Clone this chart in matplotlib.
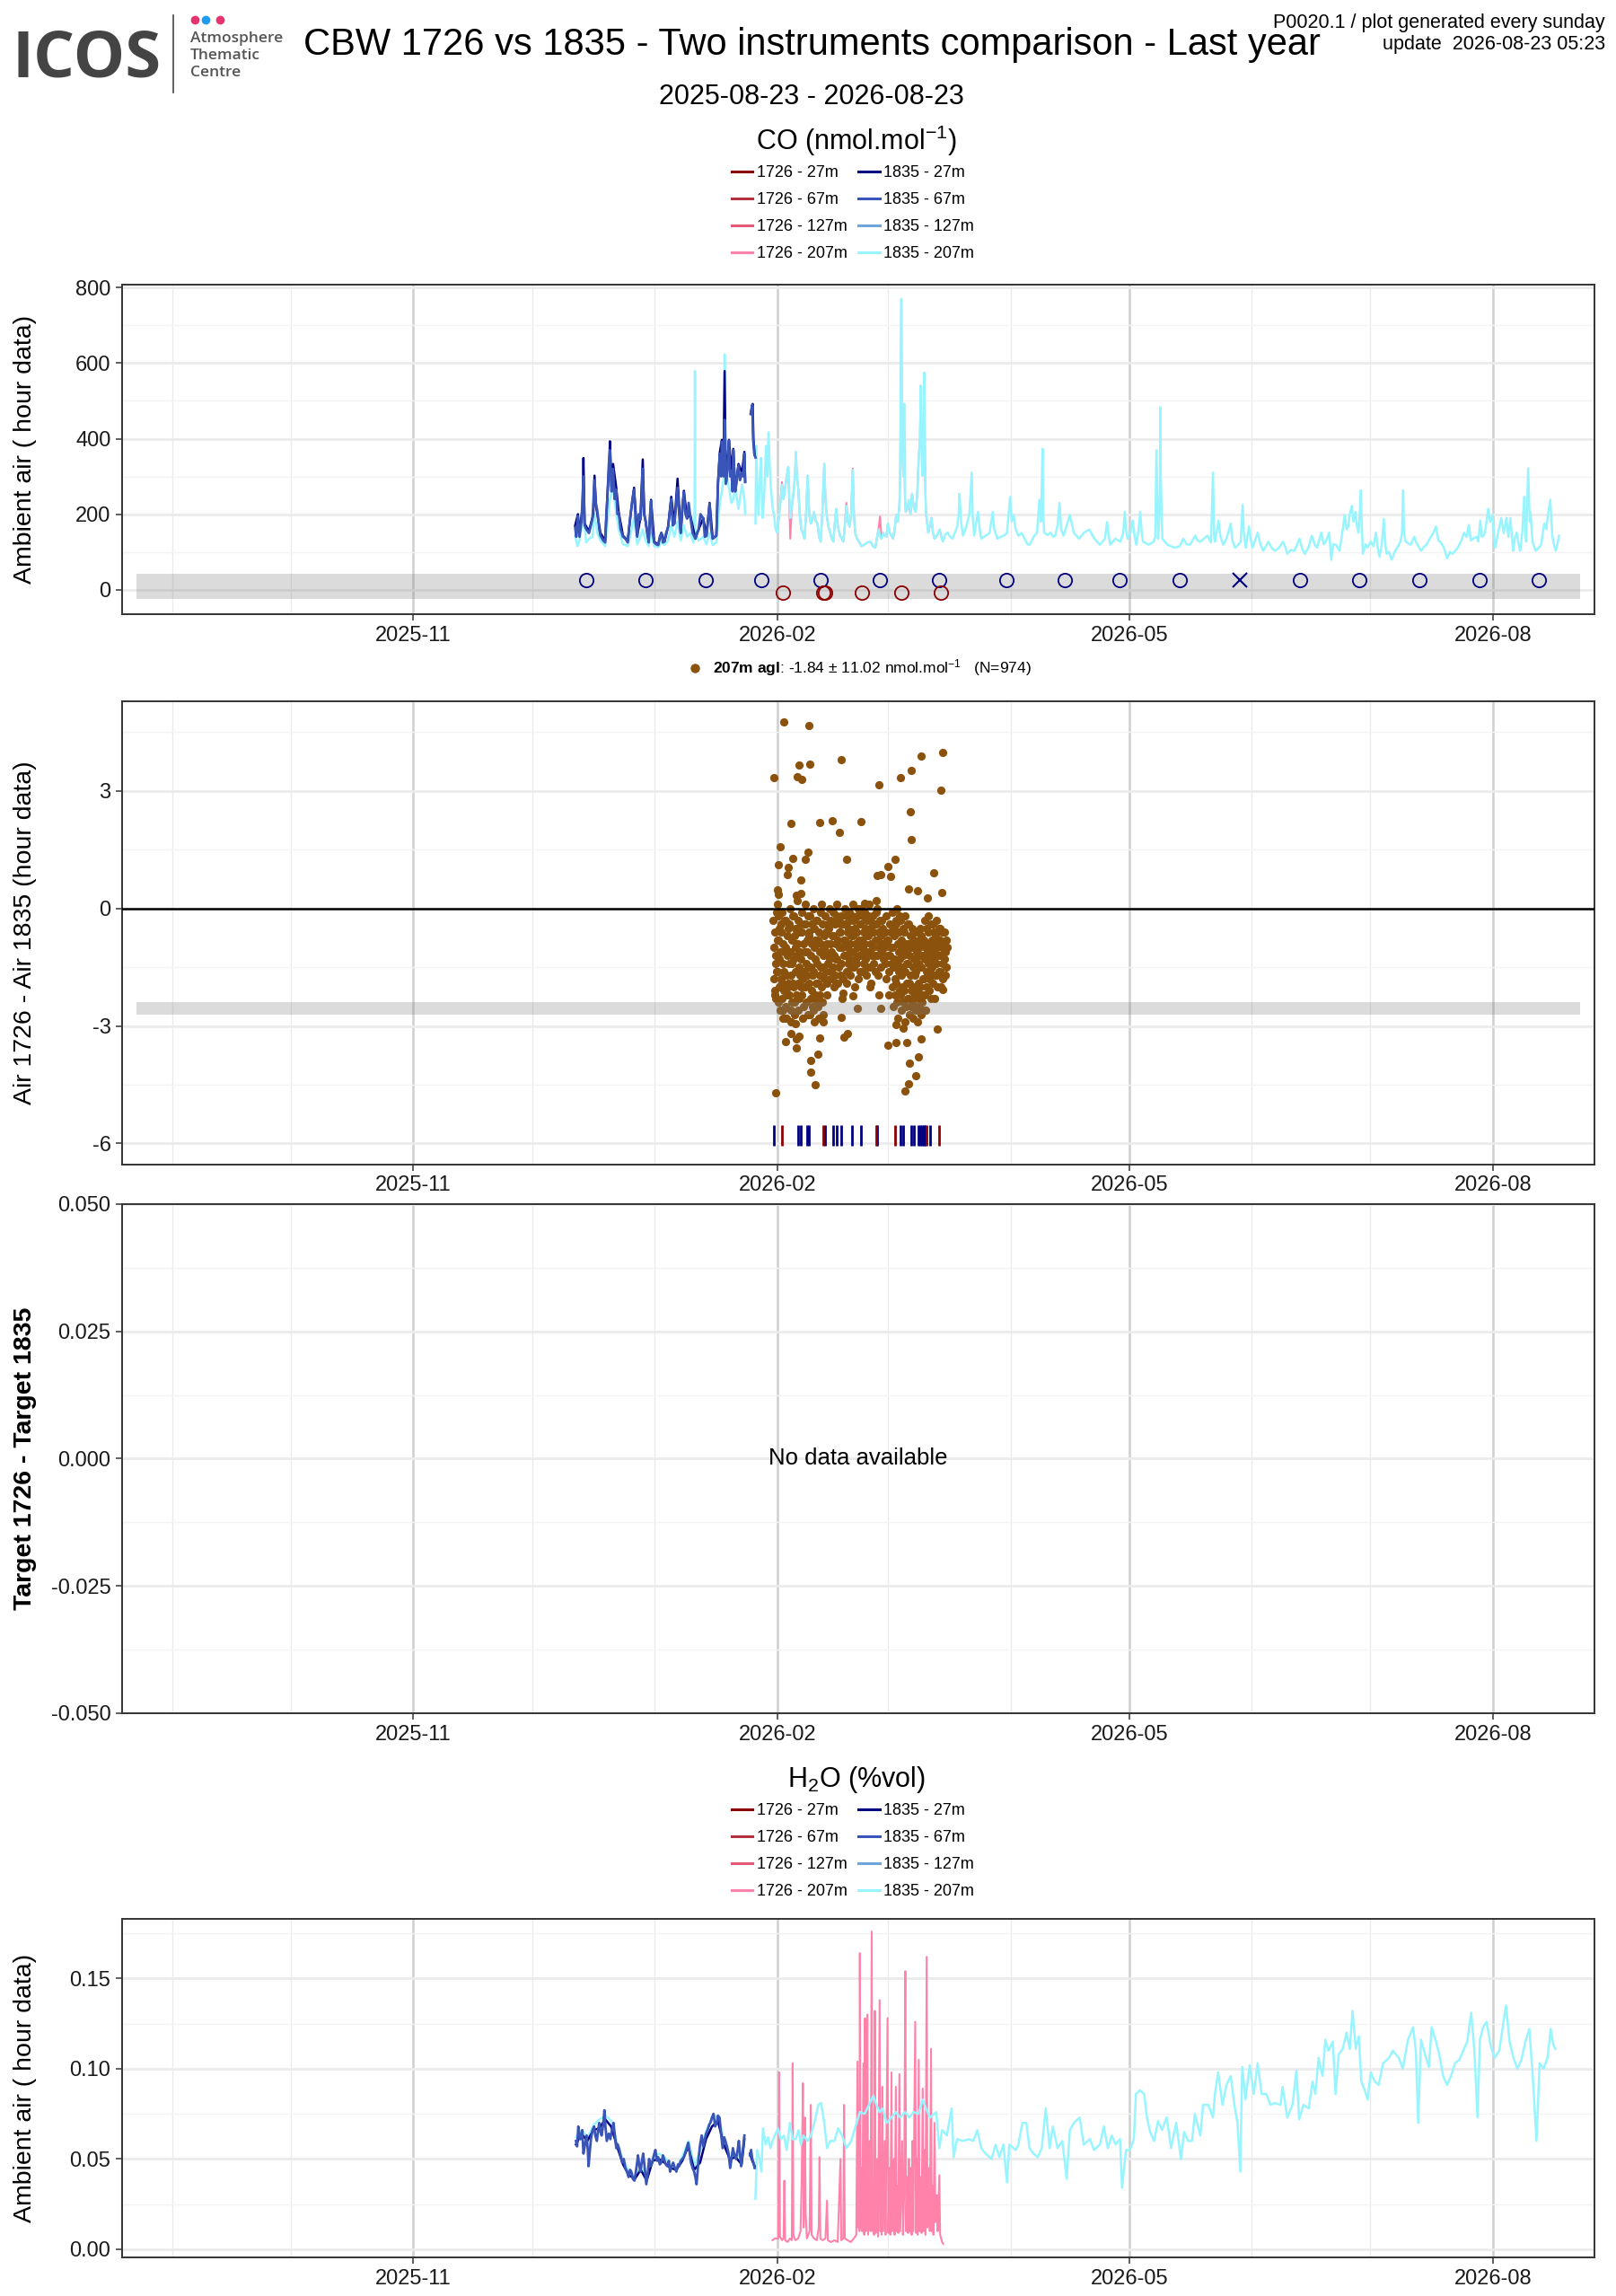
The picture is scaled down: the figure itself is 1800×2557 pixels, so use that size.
import numpy as np
import matplotlib
matplotlib.use("Agg")
import matplotlib.pyplot as plt
import matplotlib.dates as mdates
from matplotlib.lines import Line2D
from matplotlib.ticker import FixedLocator, FormatStrFormatter

plt.rcParams['font.family'] = ['Liberation Sans', 'DejaVu Sans']
plt.rcParams['axes.unicode_minus'] = False
plt.rcParams['mathtext.fontset'] = 'custom'
plt.rcParams['mathtext.rm'] = 'Liberation Sans'
plt.rcParams['mathtext.it'] = 'Liberation Sans:italic'
plt.rcParams['mathtext.bf'] = 'Liberation Sans:bold'

nan = np.nan

# all times are days relative to 2026-02-01 00:00
T0 = np.datetime64('2026-02-01T00:00')
period_start = np.datetime64('2025-08-23T00:00')
period_end = np.datetime64('2026-08-23T00:00')

series_names = ['1726 - 27m', '1726 - 67m', '1726 - 127m', '1726 - 207m',
                '1835 - 27m', '1835 - 67m', '1835 - 127m', '1835 - 207m']
series_colors = ['#8B0000', '#B5303F', '#E25A75', '#FF82AB',
                 '#000080', '#3A55B8', '#6CA6DC', '#98F5FF']

# ---------------- CO ambient air (nmol/mol) ----------------
co_1835_67_days = [-51.1, -50.8, -50.4, -50.0, -49.5, -49.0, -48.7, -48.3, -47.6, -47.0, -46.7, -46.2,
                   -45.9, -45.5, -45.0, -44.7, -44.0, -43.5, -43.2, -42.9, -42.6, -42.3, -41.9, -41.5,
                   -41.1, -40.7, -40.4, -40.1, -39.6, -39.0, -38.4, -37.8, -37.4, -37.0, -36.6, -36.2,
                   -35.8, -35.4, -35.0, -34.6, -34.3, -34.0, -33.7, -33.3, -32.9, -32.5, -32.2, -31.9,
                   -31.5, -31.1, -30.6, -30.1, -29.7, -29.3, -28.9, -28.5, -28.1, -27.6, -27.2, -26.8,
                   -26.4, -26.0, -25.6, -25.2, -24.8, -24.4, -24.0, -23.6, -23.2, -22.8, -22.4, -22.0,
                   -21.4, -20.7, -20.3, -19.9, -19.4, -18.7, -18.3, -17.9, -17.5, -17.1, -16.7, -16.3,
                   -15.8, -15.4, -15.2, -15.0, -14.7, -14.5, -14.2, -14.0, -13.6, -13.3, -13.0, -12.9,
                   -12.5, -12.2, -11.9, -11.6, -11.3, -11.1, -10.8, -10.6, -10.2, -9.8, -9.4, -8.9,
                   -8.6, -8.3, -8.1, -7.0, -6.7, -6.3, -6.1, -5.8, -5.5]
co_1835_67_vals = [165, 140, 195, 140, 180, 300, 170, 160, 150, 175, 190, 290,
                   230, 210, 160, 143, 130, 125, 200, 250, 330, 370, 260, 320,
                   240, 265, 200, 205, 160, 140, 135, 125, 170, 205, 240, 265,
                   180, 140, 200, 185, 240, 320, 200, 185, 150, 125, 190, 235,
                   150, 125, 120, 118, 140, 150, 125, 128, 150, 165, 200, 240,
                   170, 175, 220, 270, 200, 150, 220, 258, 200, 188, 230, 195,
                   150, 135, 150, 158, 200, 188, 140, 142, 180, 228, 160, 135,
                   140, 143, 200, 276, 330, 360, 300, 392, 300, 450, 280, 285,
                   330, 395, 300, 315, 260, 370, 300, 260, 290, 330, 290, 310,
                   300, 360, 285, nan, 465, 490, 400, 360, 350]

co_1835_27_days = [-51.1, -50.4, -50.0, -49.2, -49.0, -48.7, -47.6, -46.5, -46.2, -45.8, -44.7, -43.5,
                   -42.9, -42.5, -42.3, -41.9, -41.5, -40.7, -40.1, -39.0, -37.8, -37.0, -36.2, -35.4,
                   -34.6, -34.0, -33.6, -32.5, -31.9, -31.1, -30.1, -29.3, -28.5, -27.6, -26.8, -26.0,
                   -25.2, -24.4, -23.6, -22.8, -22.0, -20.7, -19.9, -18.7, -17.9, -17.1, -16.3, -15.4,
                   -15.0, -14.5, -14.0, -13.6, -13.3, -13.0, -12.9, -12.2, -11.6, -11.1, -10.6, -9.8,
                   -8.9, -8.3, -8.1, -7.0, -6.7, -6.2, -6.0, -5.7]
co_1835_27_vals = [170, 200, 150, 220, 349, 175, 155, 200, 302, 220, 150, 130,
                   260, 330, 393, 270, 333, 270, 206, 143, 130, 206, 270, 143,
                   190, 345, 200, 130, 238, 127, 119, 151, 127, 167, 246, 175,
                   294, 151, 262, 190, 198, 135, 159, 190, 143, 230, 135, 143,
                   278, 365, 397, 320, 579, 300, 286, 397, 317, 373, 262, 333,
                   310, 365, 286, nan, 468, 492, 397, 357]

co_1835_207_days = [-51.1, -50.5, -50.0, -49.0, -48.3, -47.6, -46.7, -46.2, -45.5, -44.7, -43.5, -42.9,
                    -42.3, -41.5, -40.7, -40.1, -39.0, -37.8, -37.0, -36.2, -35.4, -34.6, -34.0, -33.3,
                    -32.5, -31.9, -31.1, -30.1, -29.3, -28.5, -27.6, -26.8, -26.0, -25.2, -24.4, -23.6,
                    -22.8, -22.0, -21.2, -20.9, -20.8, -20.7, -19.9, -18.7, -17.9, -17.1, -16.3, -15.4,
                    -15.0, -14.5, -14.0, -13.5, -13.3, -13.1, -12.9, -12.2, -11.6, -11.1, -10.6, -9.8,
                    -8.9, -8.3, -8.1, -7.0,
                    -5.5, -5.3, -5.0, -4.7, -4.4, -4.1, -3.7, -3.3, -2.8, -2.5, -2.2, -1.9,
                    -1.6, -1.2, -0.8, -0.4, 0.0, 0.4, 0.8, 1.2, 1.6, 2.0, 2.4, 2.8,
                    3.3, 3.7, 4.1, 4.5, 4.7, 5.0, 5.3, 5.7, 6.1, 6.5, 6.9, 7.3,
                    7.7, 8.1, 8.5, 8.9, 9.3, 9.8, 10.2, 10.6, 11.0, 11.4, 11.9, 12.2,
                    12.6, 13.0, 13.4, 13.8, 14.2, 14.6, 14.9, 15.3, 15.9, 16.3, 16.7, 17.1,
                    17.5, 17.9, 18.3, 18.7, 19.1, 19.4, 19.7, 20.2, 20.7, 21.3, 22.0, 22.8,
                    23.6, 24.2, 24.8, 25.2, 25.6, 26.0, 26.4, 26.8, 27.2, 27.6, 28.0, 28.5,
                    29.3, 29.7, 30.1, 30.5, 30.9, 31.1, 31.4, 31.5, 31.7, 31.9, 32.1, 32.3,
                    32.5, 32.9, 33.3, 33.7, 34.1, 34.5, 35.0, 35.4, 35.8, 36.1, 36.3, 36.6,
                    36.7, 37.0, 37.2, 37.4, 37.6, 38.2, 38.6, 39.0, 39.4, 39.8, 40.5, 41.1,
                    41.5, 41.9, 42.4, 43.1, 43.7, 44.3, 44.9, 45.5, 45.9, 46.1, 46.5, 47.0,
                    47.6, 48.0, 48.6, 49.2, 49.4, 49.8, 50.2, 50.8, 51.2, 51.6, 52.2, 52.8,
                    53.7, 54.5, 54.9, 55.7, 56.5, 57.3, 58.1, 58.9, 59.3, 59.8, 60.3, 61.0,
                    61.8, 62.6, 63.3, 63.8, 64.4, 65.0, 65.7, 66.3, 66.7, 67.1, 67.3, 67.5,
                    68.3, 69.1, 69.8, 70.3, 70.9, 71.4, 71.8, 72.4, 73.2, 74.0,
                    75.0, 76.3, 77.6, 78.9, 80.2, 81.6, 82.9, 83.4, 83.9, 84.2, 85.5, 86.8,
                    87.5, 87.9, 88.2, 88.6, 89.3, 89.9, 90.4, 90.8, 91.4, 91.8, 92.2, 92.5,
                    93.9, 95.2, 95.6, 95.9, 96.1, 96.3, 96.7, 96.9, 97.0, 97.4, 98.7, 99.6,
                    100.5, 101.8, 102.7, 103.5, 104.4, 105.7, 106.3, 107.0, 107.9, 108.8, 109.7, 110.2,
                    110.5, 110.7, 111.6, 112.1, 112.8, 113.6, 114.7, 115.1, 115.8, 116.7, 117.2, 117.7,
                    118.0, 118.5, 119.3, 119.8, 120.2, 121.5, 122.2, 122.9, 124.2, 125.1, 125.9, 126.8,
                    127.9, 128.6, 129.0, 129.9, 130.8, 132.1, 132.7, 133.4, 134.3, 135.2, 135.9, 136.5,
                    137.6, 138.2, 138.7, 139.6, 140.1, 140.6, 141.3, 142.2, 142.9, 143.5, 144.0, 144.4,
                    144.8, 145.3, 145.7, 146.2, 146.6, 147.0, 147.3, 147.6, 147.8, 148.1, 148.8, 149.2,
                    150.1, 150.8, 151.4, 151.9, 152.3, 152.9, 153.4, 153.8, 154.1, 154.7, 155.4, 156.3,
                    157.0, 157.6, 158.0, 158.3, 158.5, 158.9, 160.2, 161.1, 161.5, 162.8, 163.7, 164.2,
                    165.0, 165.9, 166.6, 167.2, 167.7, 168.6, 169.4, 170.1, 170.8, 172.1, 173.0, 173.7,
                    174.3, 174.9, 175.4, 176.0, 176.9, 177.3, 177.8, 178.2, 178.7, 179.1, 179.8, 180.3,
                    180.9, 181.2, 181.6, 182.3, 183.1, 183.7, 184.4, 184.9, 185.4, 186.1, 186.6, 187.0,
                    187.5, 187.9, 188.4, 188.9, 189.2, 189.4, 189.9, 190.3, 190.5, 191.0, 191.8, 192.5,
                    193.2, 193.6, 194.0, 194.5, 194.9, 195.5, 195.8, 196.0, 196.4, 196.9, 197.3, 197.7]
co_1835_207_vals = [140, 115, 130, 200, 125, 135, 140, 200, 150, 130, 115, 180,
                    240, 270, 200, 160, 120, 115, 150, 190, 120, 140, 160, 130,
                    115, 150, 115, 112, 125, 118, 130, 170, 140, 180, 130, 170,
                    140, 150, 125, 200, 579, 150, 130, 140, 120, 150, 118, 125,
                    170, 230, 260, 300, 623, 330, 317, 270, 230, 238, 270, 214,
                    278, 240, 200, nan,
                    175, 381, 250, 198, 300, 349, 190, 250, 381, 300, 417, 330,
                    270, 220, 198, 160, 151, 190, 230, 278, 240, 270, 300, 325,
                    190, 220, 254, 300, 365, 300, 270, 200, 159, 150, 135, 200,
                    302, 200, 175, 185, 206, 180, 175, 140, 127, 200, 333, 240,
                    190, 165, 151, 135, 127, 180, 214, 170, 143, 135, 127, 170,
                    222, 180, 167, 200, 317, 200, 151, 135, 127, 115, 119, 125,
                    127, 115, 111, 135, 159, 140, 135, 150, 143, 140, 175, 150,
                    135, 160, 198, 180, 222, 300, 770, 400, 349, 300, 492, 250,
                    206, 220, 238, 200, 254, 220, 206, 250, 349, 400, 540, 350,
                    302, 400, 575, 300, 206, 151, 170, 190, 150, 135, 145, 159,
                    140, 127, 145, 151, 140, 135, 150, 167, 200, 254, 180, 143,
                    160, 175, 200, 310, 200, 143, 170, 206, 160, 135, 140, 143,
                    150, 206, 160, 135, 140, 143, 150, 246, 180, 198, 160, 143,
                    150, 135, 120, 119, 130, 143, 150, 238, 180, 373, 200, 151,
                    145, 151, 140, 143, 170, 230, 160, 143, 170, 198,
                    151, 135, 151, 159, 135, 119, 135, 179, 140, 119, 135, 127,
                    150, 206, 160, 135, 150, 183, 140, 119, 160, 206, 150, 127,
                    119, 127, 140, 369, 250, 135, 200, 483, 300, 135, 119, 115,
                    111, 115, 135, 120, 119, 143, 130, 127, 135, 143, 125, 310,
                    140, 127, 183, 140, 119, 135, 175, 130, 111, 120, 127, 225,
                    150, 111, 167, 130, 111, 151, 120, 103, 127, 110, 103, 110,
                    127, 110, 95, 105, 103, 135, 110, 95, 110, 143, 120, 111,
                    151, 120, 127, 151, 79, 120, 119, 103, 150, 198, 160, 167,
                    200, 222, 180, 206, 170, 151, 200, 263, 180, 95, 120, 111,
                    127, 115, 151, 110, 87, 120, 187, 120, 95, 100, 79, 103,
                    115, 127, 150, 263, 150, 127, 119, 140, 127, 103, 115, 119,
                    135, 150, 167, 130, 127, 111, 83, 100, 95, 111, 130, 151,
                    140, 171, 130, 135, 140, 127, 183, 140, 143, 160, 214, 180,
                    198, 150, 111, 150, 190, 150, 190, 140, 190, 103, 140, 151,
                    120, 103, 150, 246, 160, 127, 321, 180, 206, 127, 103, 110,
                    119, 150, 175, 160, 198, 238, 180, 143, 120, 103, 120, 143]

# 1726 at 207m: reads almost the same as 1835 and is drawn underneath it
co_1726_207_days = [0.0, 0.4, 0.8, 1.2, 1.6, 2.0, 2.4, 2.8, 3.3, 3.7, 4.1, 4.5,
                    4.7, 5.0, 5.3, 5.7, 6.1, 6.5, 6.9, 7.3, 7.7, 8.1, 8.5, 8.9,
                    9.3, 9.8, 10.2, 10.6, 11.0, 11.4, 11.9, 12.2, 12.6, 13.0, 13.4, 13.8,
                    14.2, 14.6, 14.9, 15.3, 15.9, 16.3, 16.7, 17.1, 17.5, 17.9, 18.3, 18.7,
                    19.1, 19.4, 19.7, 20.2, 20.7, 21.3, 22.0, 22.8, 23.6, 24.2, 24.8, 25.2,
                    25.6, 26.0, 26.4, 26.8, 27.2, 27.6, 28.0, 28.5, 29.3, 29.7, 30.1, 30.5,
                    30.9, 31.1, 31.4, 31.5, 31.7, 31.9, 32.1, 32.3, 32.5, 32.9, 33.3, 33.7,
                    34.1, 34.5, 35.0, 35.4, 35.8, 36.1, 36.3, 36.6, 36.7, 37.0, 37.2, 37.4,
                    37.6, 38.2, 38.6, 39.0, 39.4, 39.8, 40.5, 41.1, 41.5]
co_1726_207_vals = [151, 190, 230, 285, 240, 270, 300, 325, 135, 220, 254, 300,
                    365, 300, 270, 200, 159, 150, 135, 200, 302, 200, 175, 185,
                    206, 180, 175, 140, 127, 200, 333, 240, 190, 165, 151, 135,
                    127, 180, 214, 170, 143, 135, 127, 170, 230, 180, 167, 200,
                    321, 200, 151, 135, 127, 115, 119, 125, 127, 115, 111, 135,
                    159, 194, 135, 150, 143, 140, 175, 150, 135, 160, 198, 180,
                    222, 300, 770, 400, 349, 300, 492, 250, 206, 220, 225, 200,
                    254, 220, 206, 250, 349, 400, 540, 350, 302, 400, 575, 300,
                    206, 151, 170, 190, 150, 135, 145, 159, 140]

# reference-gas flags shown in the grey band of the CO panel
flag_1835_days = [-48.2, -33.2, -18.1, -4.1, 10.9, 25.9, 40.9, 57.9, 72.8,
                  86.6, 101.8, 132.1, 147.2, 162.4, 177.5, 192.6]
flag_1835_level = 25
flag_1835_cross_days = [116.9]
flag_1726_days = [1.5, 11.6, 12.2, 21.5, 31.5, 41.5]
flag_1726_level = -8
co_band = (-25, 41)

# ---------------- Air 1726 - Air 1835 (207m) ----------------
diff_outlier_days = [1.6, 7.9, -0.8, 5.5, 8.2, 5.0, 6.2, 16.1, 25.7, 31.2, 33.9, 36.3, 41.8, 41.5,
                     33.6, 34.0, 3.4, 10.7, 13.9, 15.7, 21.2, 0.7, 3.9, 7.0, 7.8, 0.3, 2.7, 2.5,
                     17.5, 29.9, 27.9, 28.6, 25.2, 26.2, 39.5, 6.0, 0.1, 0.25, 33.2, 35.4, 38.0,
                     41.7, 25.0, 22.2, 4.8, 5.9,
                     -0.3, 9.6, 8.4, 8.5, 10.3, 4.8, 2.0, 4.8, 3.5, 5.5, 10.8, 16.8, 17.8, 28.0,
                     30.1, 32.7, 33.5, 35.8, 35.0, 33.3, 32.4, 36.4, 40.4, 16.1, 11.7, 4.6, 1.4,
                     20.3, 26.2, 28.3, 23.5, 19.1, 16.6, 14.9, 41.8, -0.7, 30.1, 31.9]
diff_outlier_vals = [4.76, 4.66, 3.33, 3.66, 3.68, 3.37, 3.29, 3.81, 3.15, 3.35, 3.53, 3.89, 3.99, 3.02,
                     2.46, 1.76, 2.18, 2.20, 2.24, 1.95, 2.22, 1.58, 1.27, 1.26, 1.43, 1.11, 1.06, 0.87,
                     1.26, 1.26, 1.07, 0.82, 0.85, 0.87, 0.92, 0.72, 0.48, 0.36, 0.49, 0.45, 0.27,
                     0.41, 0.21, 0.14, 0.33, 0.39,
                     -4.70, -4.51, -4.17, -3.87, -3.71, -3.56, -3.41, -3.33, -3.19, -3.27, -3.30, -3.29,
                     -3.20, -3.48, -3.43, -3.43, -3.94, -3.79, -4.28, -4.47, -4.66, -3.32, -3.08,
                     -2.78, -2.89, -2.93, -2.81, -2.54, -2.54, -2.20, -2.01, -2.24, -2.15, -1.92,
                     -2.07, -2.20, -2.97, -3.05]

# bulk of the hourly differences, one row per day starting 2026-01-31
diff_first_day = -1
diff_daily_rows = [
    [-0.3, -1.8, -1.0, -2.1, -0.6, -1.4, -2.3, -1.2, -0.1, -1.6, -0.8],
    [0.1, -1.6, -0.8, -2.4, -0.2, -1.3, -2.0, -0.5, -1.1, -2.6, -1.8, -0.4],
    [-0.6, -2.3, -0.1, -1.9, -1.4, -2.6, -0.9, -2.1, -1.6, -0.3, -2.8, -1.1],
    [-1.0, -0.3, -2.5, -1.7, -2.8, -0.7, -2.2, -1.2, -1.9, -0.5, -2.0, -1.4],
    [-0.4, -2.2, 0.0, -1.1, -2.9, -1.7, -2.6, -0.8, -1.4, -2.4, -0.2, -1.9],
    [-2.0, -0.2, -1.3, -2.7, -0.7, -2.4, -1.0, -1.6, -0.5, -2.2, -1.2, -0.9],
    [-0.9, 0.2, -1.9, -2.6, -0.3, -1.5, -2.3, -0.6, -1.1, -1.7, -2.0, -0.4],
    [-1.3, -0.1, -2.2, -0.6, -2.8, -1.8, -0.9, -2.5, -1.6, -0.4, -1.1, -2.0],
    [-0.4, -2.0, 0.1, -1.4, -2.4, -0.8, -1.7, -1.1, -0.2, -2.7, -1.5, -0.6],
    [-1.9, -0.7, -2.7, -0.2, -1.2, -2.3, -1.5, -2.1, -0.9, -0.4, -1.7, -2.5],
    [0.0, -1.6, -2.6, -0.5, -2.9, -1.0, -2.2, -1.3, -0.8, -1.9, -0.3, -2.4],
    [-1.4, -0.3, -2.5, -0.8, -1.9, -2.8, -0.6, -1.1, -1.7, -2.2, -0.1, -1.5],
    [-0.9, 0.1, -2.0, -1.5, -0.4, -2.4, -2.7, -1.2, -0.7, -1.8, -1.0],
    [-1.1, -0.2, -1.6, -0.6, -2.2, -0.9, -1.9, -1.4, -0.4, -1.2],
    [-0.5, -1.3, 0.0, -1.8, -0.9, -0.3, -1.6, -1.1, -0.7, -1.5],
    [-0.7, -1.5, -0.1, -2.0, -1.2, -0.4, -1.7, -0.9, -1.3, -0.2],
    [-1.3, 0.1, -0.8, -1.9, -0.3, -1.5, -0.6, -1.0, -1.7, -0.4],
    [-0.6, -1.4, -0.2, -2.3, -1.0, -0.4, -1.8, -1.2, -0.8],
    [-0.8, 0.0, -1.2, -0.4, -1.6, -0.2, -1.9, -1.0, -0.6, -1.4],
    [-0.5, -1.3, -0.1, -0.9, -1.7, -0.3, -1.1, -0.7, -1.5, -0.2],
    [-1.1, 0.1, -0.7, -1.5, -0.3, -2.0, -0.5, -0.9, -1.3, -0.6],
    [-0.6, -1.4, -0.2, -1.0, 0.0, -1.8, -0.8, -1.2, -0.4, -1.6],
    [-0.4, -1.2, 0.0, -0.8, -1.6, -0.2, -1.0, -1.4, -0.6, -1.1],
    [-0.9, -0.1, -1.3, -0.5, -1.7, -0.3, -1.1, -0.7, -1.5, -0.2],
    [-0.7, 0.1, -1.1, -0.3, -1.5, -0.5, -0.9, -1.9, -1.2, -0.6],
    [-1.0, -0.2, -1.4, -0.6, -0.4, -1.2, -0.8, -1.6, -0.1],
    [-0.4, -1.2, 0.0, -0.8, -1.7, -0.6, -1.0, -2.2, -0.3],
    [-0.7, -1.5, -0.3, -1.1, -0.5, -0.9, -1.3],
    [-1.0, -0.6, -1.4, -0.2, -1.8, -0.8, -1.2],
    [-0.8, -1.6, -0.4, -1.2, -0.6, -1.0, -1.4],
    [-1.0, -0.1, -2.0, -1.5, -2.5, -0.5, -1.3, -0.7, -1.8, -2.2, -0.3],
    [-0.4, -1.9, 0.0, -2.4, -1.4, -2.8, -0.9, -1.1, -0.6, -1.6, -2.1, -0.2],
    [-1.3, -0.3, -2.2, -0.8, -2.6, -1.7, -1.0, -2.0, -1.5, -0.5, -2.4, -1.2],
    [-0.6, -2.1, -0.2, -1.6, -2.9, -1.1, -2.5, -0.9, -1.4, -1.9, -0.4, -2.3],
    [-1.4, -0.4, -2.3, -0.9, -2.7, -1.9, -1.2, -0.7, -1.7, -2.1, -1.0, -2.5],
    [-1.0, -2.4, -0.5, -1.5, -2.8, -2.0, -1.3, -0.8, -2.2, -1.7, -0.6, -2.6],
    [-1.6, -0.6, -2.5, -1.1, -2.9, -0.9, -2.1, -1.4, -1.9, -2.3, -0.8, -1.2],
    [-1.0, -0.5, -2.0, -1.5, -2.7, -0.7, -2.4, -1.2, -2.6, -1.8, -0.9, -2.2],
    [-0.8, -1.8, -0.3, -2.2, -1.3, -2.6, -1.0, -1.6, -0.5, -2.0, -1.1],
    [-1.0, -0.2, -1.4, -0.6, -2.1, -1.8, -0.9, -1.2, -1.6, -0.4, -2.3],
    [-0.8, -1.5, -0.4, -1.9, -1.1, -0.6, -1.3, -2.3, -1.0, -1.7],
    [-0.7, -1.4, -0.3, -1.7, -1.0, -2.0, -0.9, -1.2, -0.5, -1.6],
    [-0.8, -1.6, -0.5, -1.2, -2.0, -1.0, -0.6, -1.4, -1.8, -0.9],
    [-0.9, -0.6, -1.3, -1.7, -1.1, -0.8, -1.5, -1.0],
]
diff_band = (-2.72, -2.40)
rug_1835_days = [-0.83, 5.3, 5.9, 7.6, 8.0, 12.2, 14.1, 15.1, 16.1, 19.0, 21.1, 25.3,
                 31.2, 31.8, 34.0, 34.5, 35.8, 36.2, 36.6, 37.0, 37.3, 38.6]
rug_1726_days = [1.14, 11.6, 25.1, 29.9, 37.8, 40.9]
rug_range = (-6.05, -5.52)
diff_label = r'$\mathbf{207m\ agl}$: -1.84 ± 11.02 nmol.mol$^{-1}$   (N=974)'

# ---------------- H2O ambient air (%vol) ----------------
h2o_1835_67_days = [-50.9, -50.6, -50.3, -50.0, -49.7, -49.3, -49.0, -48.6, -48.2, -47.9, -47.7, -47.4,
                    -47.1, -46.7, -46.3, -46.0, -45.6, -45.3, -45.0, -44.7, -44.4, -44.0, -43.7, -43.4,
                    -43.1, -42.6, -42.2, -41.8, -41.4, -41.0, -40.7, -40.3, -39.9, -39.5, -39.2, -38.8,
                    -38.4, -38.0, -37.6, -37.2, -36.9, -36.5, -36.1, -35.6, -35.2, -34.9, -34.6, -34.2,
                    -33.9, -33.5, -33.1, -32.7, -32.4, -32.0, -31.6, -31.2, -30.8, -30.4, -30.1, -29.7,
                    -29.3, -28.9, -28.6, -28.2, -27.8, -27.4, -27.1, -26.7, -26.3, -25.9, -25.5, -25.1,
                    -24.8, -24.4, -24.0, -23.6, -23.3, -22.9, -22.5, -22.1, -21.8, -21.4, -21.0, -20.7,
                    -20.4, -20.1, -19.9, -19.5, -19.1, -18.7, -18.4, -18.0, -17.6, -17.2, -16.9, -16.5,
                    -16.1, -15.7, -15.3, -15.0, -14.6, -14.2, -13.8, -13.4, -13.1, -12.7, -12.3, -11.9,
                    -11.5, -11.2, -10.8, -10.4, -10.0, -9.7, -9.4, -9.1, -8.7, -8.3, -7.5, -6.9, -6.6,
                    -6.3, -6.0, -5.7]
h2o_1835_67_vals = [0.060, 0.057, 0.068, 0.063, 0.061, 0.066, 0.053, 0.058, 0.063, 0.055, 0.046, 0.054,
                    0.061, 0.066, 0.068, 0.063, 0.060, 0.066, 0.070, 0.065, 0.063, 0.069, 0.077, 0.067,
                    0.060, 0.064, 0.061, 0.066, 0.070, 0.062, 0.056, 0.058, 0.055, 0.051, 0.048, 0.050,
                    0.045, 0.043, 0.040, 0.044, 0.043, 0.039, 0.038, 0.045, 0.052, 0.047, 0.043, 0.049,
                    0.053, 0.045, 0.036, 0.043, 0.050, 0.046, 0.048, 0.052, 0.055, 0.049, 0.051, 0.047,
                    0.048, 0.052, 0.050, 0.047, 0.046, 0.049, 0.043, 0.046, 0.048, 0.045, 0.043, 0.047,
                    0.046, 0.049, 0.050, 0.051, 0.053, 0.056, 0.059, 0.053, 0.048, 0.045, 0.043, 0.040,
                    0.036, 0.044, 0.050, 0.058, 0.063, 0.057, 0.060, 0.064, 0.066, 0.069, 0.070, 0.073,
                    0.075, 0.068, 0.070, 0.074, 0.073, 0.064, 0.056, 0.062, 0.060, 0.057, 0.053, 0.045,
                    0.051, 0.056, 0.052, 0.050, 0.055, 0.060, 0.052, 0.046, 0.055, 0.063, nan, 0.052, 0.055,
                    0.050, 0.048, 0.045]

h2o_1835_27_days = [-50.9, -49.5, -48.0, -46.5, -45.0, -43.5, -42.0, -40.5, -39.0, -37.5, -36.0, -34.5,
                    -33.0, -31.5, -30.0, -28.5, -27.0, -25.5, -24.0, -22.5, -21.0, -19.5, -18.0, -16.5,
                    -15.0, -13.5, -12.0, -10.5, -9.0, -8.3, -7.5, -6.9, -6.3, -5.7]
h2o_1835_27_vals = [0.058, 0.064, 0.060, 0.066, 0.067, 0.072, 0.068, 0.057, 0.047, 0.041, 0.039, 0.044,
                    0.038, 0.049, 0.050, 0.048, 0.045, 0.044, 0.049, 0.057, 0.044, 0.048, 0.061, 0.068,
                    0.071, 0.058, 0.050, 0.051, 0.047, 0.061, nan, 0.053, 0.049, 0.046]

h2o_1835_207_days = [-50.9, -49.4, -47.9, -46.4, -44.9, -43.4, -41.9, -40.4, -38.9, -37.4, -35.9, -34.4,
                     -32.9, -31.4, -29.9, -28.4, -26.9, -25.4, -23.9, -22.4, -20.9, -19.4, -17.9, -16.4,
                     -14.9, -13.4, -11.9, -10.4, -8.9, -8.3, -7.0,
                     -5.5, -5.1, -4.5, -4.0, -3.6, -2.9, -2.3, -1.7, -1.2, -0.6, 0.2, 0.9,
                     1.7, 2.4, 3.2, 3.9, 4.7, 5.4, 6.0, 6.6, 7.7, 8.5, 9.4, 10.4,
                     11.1, 11.9, 12.6, 13.4, 14.5, 15.4, 16.4, 17.5, 18.7, 19.8, 20.9, 22.1,
                     23.2, 24.3, 25.1, 25.9, 26.6, 27.7, 28.9, 30.0, 31.1, 32.3, 33.4, 34.5,
                     35.7, 36.8, 37.6, 38.7, 40.2, 41.0, 41.7, 42.9, 44.1, 44.6, 45.5, 47.0,
                     48.5, 49.6, 50.6, 51.6, 52.7, 54.2, 55.2, 56.2, 57.2, 58.1, 58.7, 60.3,
                     61.0, 62.0, 63.0, 63.8, 64.8, 65.9, 66.9, 67.9, 68.9, 69.7, 70.9, 72.1,
                     73.2, 74.0, 75.0, 76.5, 77.5, 79.1, 80.1, 81.6, 82.6, 83.6, 84.6, 85.6,
                     86.7, 87.2, 88.2, 89.2, 90.2, 90.7, 91.7, 92.8, 93.5, 94.3, 95.3, 96.3,
                     97.3, 98.5, 99.6, 100.9, 102.1, 102.9, 103.9, 104.9, 105.6, 107.0, 107.7, 109.0,
                     110.2, 110.7, 111.5, 112.6, 113.6, 114.7, 115.6, 116.4, 117.1, 117.6, 118.4, 119.5,
                     120.5, 121.5, 122.5, 123.7, 124.7, 125.8, 127.3, 127.8, 129.0, 130.3, 131.3, 132.0,
                     133.1, 134.4, 135.4, 136.1, 136.9, 137.9, 138.6, 139.4, 140.5, 141.2, 142.0, 143.0,
                     144.0, 144.8, 145.5, 146.3, 147.1, 147.7, 148.6, 149.3, 150.1, 151.1, 152.1, 153.2,
                     154.7, 155.7, 157.2, 158.2, 159.5, 160.8, 161.5, 162.1, 162.8, 163.8, 164.8, 165.5,
                     166.6, 167.4, 168.4, 169.4, 170.4, 171.4, 172.5, 173.5, 174.5, 175.5, 176.3, 177.1,
                     177.7, 178.5, 179.4, 180.4, 181.4, 182.6, 183.6, 184.3, 185.2, 186.2, 187.2, 188.2,
                     189.2, 190.2, 191.0, 192.0, 192.8, 193.8, 194.8, 195.6, 196.3, 196.8]
h2o_1835_207_vals = [0.062, 0.066, 0.062, 0.069, 0.072, 0.074, 0.071, 0.058, 0.049, 0.043, 0.040, 0.046,
                     0.040, 0.051, 0.053, 0.051, 0.046, 0.045, 0.052, 0.060, 0.046, 0.055, 0.066, 0.073,
                     0.074, 0.060, 0.049, 0.053, 0.050, 0.060, nan,
                     0.028, 0.055, 0.050, 0.043, 0.067, 0.058, 0.062, 0.056, 0.060, 0.063, 0.067, 0.061,
                     0.063, 0.055, 0.070, 0.061, 0.061, 0.066, 0.058, 0.063, 0.060, 0.063, 0.070, 0.080,
                     0.081, 0.070, 0.056, 0.060, 0.060, 0.067, 0.063, 0.056, 0.060, 0.068, 0.076, 0.075,
                     0.080, 0.085, 0.080, 0.076, 0.078, 0.070, 0.073, 0.076, 0.073, 0.076, 0.073, 0.076,
                     0.075, 0.083, 0.078, 0.073, 0.076, 0.056, 0.066, 0.063, 0.078, 0.051, 0.061, 0.060,
                     0.061, 0.060, 0.066, 0.056, 0.053, 0.050, 0.058, 0.051, 0.058, 0.037, 0.058, 0.055,
                     0.058, 0.070, 0.070, 0.056, 0.053, 0.051, 0.056, 0.078, 0.056, 0.068, 0.056, 0.060,
                     0.039, 0.066, 0.070, 0.073, 0.058, 0.061, 0.055, 0.058, 0.068, 0.056, 0.063, 0.058,
                     0.061, 0.034, 0.055, 0.055, 0.061, 0.086, 0.088, 0.086, 0.073, 0.065, 0.060, 0.071,
                     0.066, 0.073, 0.056, 0.070, 0.050, 0.065, 0.060, 0.060, 0.075, 0.063, 0.080, 0.080,
                     0.073, 0.086, 0.098, 0.080, 0.091, 0.096, 0.080, 0.070, 0.043, 0.101, 0.083, 0.102,
                     0.086, 0.103, 0.086, 0.086, 0.080, 0.081, 0.080, 0.090, 0.073, 0.080, 0.099, 0.072,
                     0.080, 0.078, 0.093, 0.086, 0.106, 0.096, 0.116, 0.110, 0.115, 0.086, 0.108, 0.111,
                     0.120, 0.111, 0.132, 0.111, 0.118, 0.093, 0.088, 0.083, 0.098, 0.093, 0.091, 0.103,
                     0.106, 0.110, 0.106, 0.100, 0.116, 0.123, 0.110, 0.070, 0.116, 0.108, 0.101, 0.123,
                     0.115, 0.108, 0.096, 0.091, 0.096, 0.103, 0.105, 0.110, 0.115, 0.131, 0.110, 0.073,
                     0.116, 0.123, 0.126, 0.113, 0.106, 0.110, 0.125, 0.135, 0.115, 0.106, 0.100, 0.105,
                     0.115, 0.122, 0.098, 0.060, 0.103, 0.100, 0.106, 0.122, 0.113, 0.111]

h2o_1726_207_days = [-1.2, -0.6, 0.3, 0.5, 0.7, 1.2, 1.6, 1.8, 2.0, 2.6, 3.2, 3.7,
                     3.9, 4.1, 4.6, 5.3, 5.9, 6.2, 6.5, 6.7, 7.0, 7.2, 7.5, 8.2,
                     8.5, 8.7, 9.3, 10.0, 10.5, 10.7, 10.9, 11.5, 12.2, 12.6, 12.8, 13.6,
                     14.5, 15.3, 16.0, 16.2, 16.7, 16.9, 17.1, 17.8, 18.6, 19.4, 20.0, 20.3,
                     20.5, 20.6, 20.8, 20.9, 21.1, 21.3, 21.5, 21.8, 22.0, 22.2, 22.4, 22.5,
                     22.6, 22.8, 23.0, 23.4, 23.6, 23.9, 24.1, 24.3, 24.5, 24.7, 24.9, 25.3,
                     25.5, 25.9, 26.1, 26.2, 26.4, 26.6, 26.8, 27.2, 27.4, 27.9, 28.1, 28.4,
                     28.6, 28.9, 29.1, 29.5, 29.7, 30.0, 30.2, 30.4, 30.6, 30.9, 31.1, 31.6,
                     31.8, 32.1, 32.4, 32.6, 32.9, 33.1, 33.3, 33.5, 33.8, 34.0, 34.2, 34.4,
                     34.9, 35.1, 35.3, 35.5, 35.8, 36.0, 36.3, 36.5, 36.8, 37.0, 37.3, 37.5,
                     37.8, 38.0, 38.4, 38.6, 38.9, 39.1, 39.3, 39.5, 39.8, 40.0, 40.4, 40.6,
                     41.0, 41.2, 41.7, 42.0]
h2o_1726_207_vals = [0.005, 0.006, 0.006, 0.098, 0.007, 0.005, 0.006, 0.038, 0.005, 0.004, 0.006, 0.005,
                     0.103, 0.008, 0.005, 0.006, 0.010, 0.040, 0.092, 0.012, 0.073, 0.020, 0.006, 0.010,
                     0.080, 0.008, 0.006, 0.005, 0.012, 0.051, 0.006, 0.005, 0.006, 0.027, 0.005, 0.004,
                     0.005, 0.004, 0.050, 0.005, 0.006, 0.080, 0.006, 0.005, 0.004, 0.006, 0.008, 0.104,
                     0.012, 0.030, 0.010, 0.164, 0.012, 0.045, 0.010, 0.103, 0.008, 0.128, 0.010, 0.040,
                     0.012, 0.130, 0.008, 0.060, 0.010, 0.176, 0.010, 0.035, 0.008, 0.132, 0.009, 0.050,
                     0.007, 0.138, 0.010, 0.040, 0.008, 0.090, 0.010, 0.060, 0.008, 0.128, 0.009, 0.045,
                     0.008, 0.098, 0.010, 0.050, 0.008, 0.090, 0.010, 0.035, 0.009, 0.097, 0.010, 0.060,
                     0.008, 0.030, 0.154, 0.010, 0.040, 0.009, 0.050, 0.010, 0.045, 0.008, 0.060, 0.010,
                     0.126, 0.009, 0.050, 0.008, 0.105, 0.010, 0.040, 0.009, 0.089, 0.010, 0.055, 0.008,
                     0.162, 0.012, 0.045, 0.010, 0.111, 0.010, 0.035, 0.008, 0.070, 0.015, 0.030, 0.010,
                     0.041, 0.008, 0.004, 0.003]


def when(days):
    return T0 + np.round(np.asarray(days, dtype=float) * 1440).astype('timedelta64[m]')


W, H = 1800, 2557
fig = plt.figure(figsize=(18, 25.57), dpi=100)


def box(top, bottom):
    return [136 / W, 1 - bottom / H, 1640 / W, (bottom - top) / H]


x_lo = period_start - np.timedelta64(88, 'h')
x_hi = period_end + np.timedelta64(88, 'h')


def style(ax, yticks, yminor, ylim, fmt):
    ax.set_xlim(x_lo, x_hi)
    ax.xaxis.set_major_locator(mdates.MonthLocator(bymonth=[2, 5, 8, 11]))
    ax.xaxis.set_minor_locator(mdates.MonthLocator())
    ax.xaxis.set_major_formatter(mdates.DateFormatter('%Y-%m'))
    ax.set_ylim(*ylim)
    ax.yaxis.set_major_locator(FixedLocator(yticks))
    ax.yaxis.set_minor_locator(FixedLocator(yminor))
    ax.yaxis.set_major_formatter(FormatStrFormatter(fmt))
    ax.grid(which='major', axis='x', color='#CFCFCF', lw=1.8)
    ax.grid(which='minor', axis='x', color='#EBEBEB', lw=1.0)
    ax.grid(which='major', axis='y', color='#EBEBEB', lw=2.0)
    ax.grid(which='minor', axis='y', color='#F3F3F3', lw=1.0)
    ax.set_axisbelow(True)
    ax.tick_params(which='minor', length=0)
    ax.tick_params(which='major', length=5, width=1.1, color='#333333',
                   labelsize=17, labelcolor='#1A1A1A', pad=4)
    for s in ax.spines.values():
        s.set_color('#333333')
        s.set_linewidth(1.4)


def series_legend(title, title_px, bottom_px):
    handles = [Line2D([], [], color=c, lw=2.2) for c in series_colors]
    fig.legend(handles, series_names, ncol=2, loc='lower center',
               bbox_to_anchor=(950 / W, 1 - bottom_px / H), frameon=False,
               fontsize=13, handlelength=1.3, handletextpad=0.25,
               columnspacing=0.7, labelspacing=0.72, borderpad=0)
    fig.text(954 / W, 1 - title_px / H, title, ha='center', va='center', fontsize=22)


lw = 1.5
period_days = [(period_start - T0) / np.timedelta64(1, 'D'), (period_end - T0) / np.timedelta64(1, 'D')]

# ---- panel 1: CO ambient air ----
ax1 = fig.add_axes(box(317, 684))
style(ax1, [0, 200, 400, 600, 800], [100, 300, 500, 700], (-65, 808), '%d')
ax1.plot(when(co_1726_207_days), co_1726_207_vals, color=series_colors[3], lw=lw, zorder=2)
ax1.plot(when(co_1835_207_days), co_1835_207_vals, color=series_colors[7], lw=lw + 0.3, zorder=2)
ax1.plot(when(co_1835_27_days), co_1835_27_vals, color=series_colors[4], lw=lw + 0.3, zorder=2)
ax1.plot(when(co_1835_67_days), co_1835_67_vals, color=series_colors[5], lw=lw + 0.5, zorder=2)
ax1.fill_between(when(period_days), co_band[0], co_band[1], color='#7F7F7F', alpha=0.28, lw=0, zorder=2.5)
ax1.plot(when(flag_1835_days), [flag_1835_level] * len(flag_1835_days), ls='', marker='o',
         ms=11, mfc='none', mec='#000080', mew=1.3, zorder=4)
ax1.plot(when(flag_1835_cross_days), [flag_1835_level] * len(flag_1835_cross_days), ls='', marker='x',
         ms=11, mec='#000080', mew=1.5, zorder=4)
ax1.plot(when(flag_1726_days), [flag_1726_level] * len(flag_1726_days), ls='', marker='o',
         ms=11, mfc='none', mec='#8B0000', mew=1.3, zorder=4)
ax1.set_ylabel('Ambient air ( hour data)', fontsize=20.5)
ax1.yaxis.set_label_coords(-0.058, 0.5)
series_legend(r'CO (nmol.mol$^{-1}$)', 157, 300)

# ---- panel 2: difference scatter ----
ax2 = fig.add_axes(box(781, 1297))
style(ax2, [-6, -3, 0, 3], [-4.5, -1.5, 1.5, 4.5], (-6.54, 5.29), '%d')
core_days, core_vals = [], []
for i, row in enumerate(diff_daily_rows):
    for j, v in enumerate(row):
        core_days.append(diff_first_day + i + (j + 0.5) / len(row))
        core_vals.append(v)
brown = '#8B520E'
ax2.scatter(when(core_days), core_vals, s=44, color=brown, lw=0, zorder=3)
ax2.scatter(when(diff_outlier_days), diff_outlier_vals, s=44, color=brown, lw=0, zorder=3)
ax2.fill_between(when(period_days), diff_band[0], diff_band[1], color='#7F7F7F', alpha=0.28, lw=0, zorder=3.5)
ax2.axhline(0, color='black', lw=1.8, zorder=4)
ax2.vlines(when(rug_1835_days), rug_range[0], rug_range[1], colors='#000080', lw=2.0, zorder=4)
ax2.vlines(when(rug_1726_days), rug_range[0], rug_range[1], colors='#8B0000', lw=2.0, zorder=4)
ax2.set_ylabel('Air 1726 - Air 1835 (hour data)', fontsize=20.5)
ax2.yaxis.set_label_coords(-0.058, 0.5)
fig.legend([Line2D([], [], ls='', marker='o', ms=6.5, color=brown)], [diff_label],
           loc='lower center', bbox_to_anchor=(957 / W, 1 - 764 / H), frameon=False,
           fontsize=12.5, handlelength=1.0, handletextpad=0.6, borderpad=0)

# ---- panel 3: target comparison (empty) ----
ax3 = fig.add_axes(box(1341, 1908))
style(ax3, [-0.05, -0.025, 0.0, 0.025, 0.05], [-0.0375, -0.0125, 0.0125, 0.0375], (-0.05, 0.05), '%.3f')
ax3.text(0.5, 0.5, 'No data available', transform=ax3.transAxes, ha='center', va='center', fontsize=18.5)
ax3.set_ylabel('Target 1726 - Target 1835', fontsize=20.5, fontweight='bold')
ax3.yaxis.set_label_coords(-0.058, 0.5)

# ---- panel 4: H2O ambient air ----
ax4 = fig.add_axes(box(2137, 2514))
style(ax4, [0.0, 0.05, 0.10, 0.15], [0.025, 0.075, 0.125, 0.175], (-0.0045, 0.183), '%.2f')
ax4.plot(when(h2o_1726_207_days), h2o_1726_207_vals, color=series_colors[3], lw=lw, zorder=2)
ax4.plot(when(h2o_1835_207_days), h2o_1835_207_vals, color=series_colors[7], lw=lw + 0.3, zorder=2)
ax4.plot(when(h2o_1835_27_days), h2o_1835_27_vals, color=series_colors[4], lw=lw + 0.3, zorder=2)
ax4.plot(when(h2o_1835_67_days), h2o_1835_67_vals, color=series_colors[5], lw=lw + 0.5, zorder=2)
ax4.set_ylabel('Ambient air ( hour data)', fontsize=20.5)
ax4.yaxis.set_label_coords(-0.058, 0.5)
series_legend(r'H$_2$O (%vol)', 1982, 2124)

# ---- header ----
fig.text(904 / W, 1 - 50 / H, 'CBW 1726 vs 1835 - Two instruments comparison - Last year',
         ha='center', va='center', fontsize=30)
fig.text(904 / W, 1 - 108 / H, '2025-08-23 - 2026-08-23', ha='center', va='center', fontsize=22)
fig.text(1788 / W, 1 - 26 / H, 'P0020.1 / plot generated every sunday', ha='right', va='center', fontsize=15.5)
fig.text(1788 / W, 1 - 50 / H, 'update  2026-08-23 05:23', ha='right', va='center', fontsize=15.5)

# ICOS logo drawn as text
fig.text(13 / W, 1 - 85 / H, 'ICOS', fontfamily='Open Sans', fontweight='bold', fontsize=52,
         color='#444444', va='baseline', ha='left')
fig.add_artist(Line2D([193 / W, 193 / W], [1 - 17 / H, 1 - 103 / H], color='#555555', lw=1.3))
for xp, c in [(217, '#E8336F'), (229, '#1E9BF0'), (245, '#E8336F')]:
    fig.add_artist(Line2D([xp / W], [1 - 22 / H], ls='', marker='o', ms=6, color=c))
for k, word in enumerate(['Atmosphere', 'Thematic', 'Centre']):
    fig.text(212 / W, 1 - (47 + 19 * k) / H, word, fontfamily='Open Sans', fontweight='semibold',
             fontsize=12.5, color='#555555', va='baseline', ha='left')

fig.savefig('out.png', dpi=100)
